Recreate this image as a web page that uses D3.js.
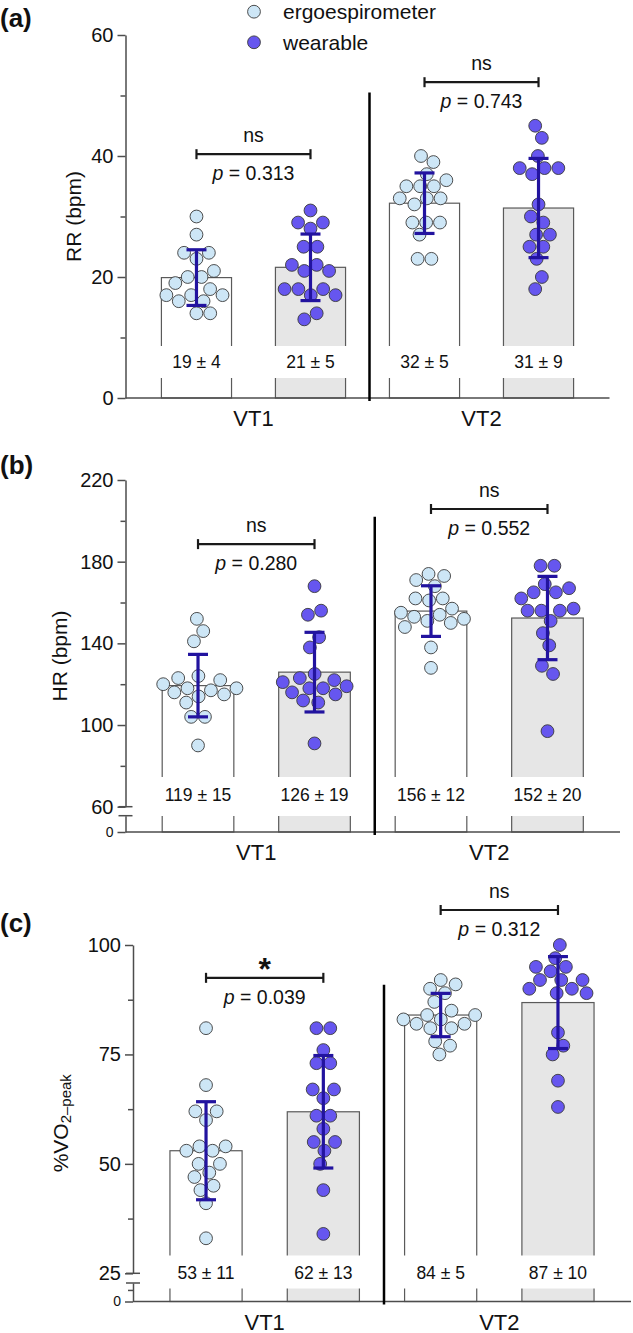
<!DOCTYPE html>
<html>
<head>
<meta charset="utf-8">
<script src="https://cdn.jsdelivr.net/npm/d3@7"></script>
<style>
  body { margin: 0; background: #fff; }
  svg { display: block; }
  text { font-family: "Liberation Sans", Arial, Helvetica, sans-serif; fill: #111; }
</style>
</head>
<body>
<svg id="chart" width="633" height="1333"></svg>
<script>
// categories
const thresholds = ["VT1", "VT2"];
const devices = ["ergoespirometer", "wearable"];
const barKeys = ["VT1-ergo", "VT1-wear", "VT2-ergo", "VT2-wear"];

// (a) respiratory rate, one list per bar (VT1 ergo, VT1 wearable, VT2 ergo, VT2 wearable)
const rrPoints = [
  [30, 27, 24, 24, 23, 21, 20, 20, 19, 18, 17, 17, 17, 16, 16, 14, 14],
  [31, 29, 29, 28, 25, 25, 22, 22, 21, 21, 18, 18, 18, 17, 17, 14, 13],
  [40, 39, 37, 36, 35, 35, 35, 33, 33, 33, 32, 29, 29, 29, 27, 23, 23],
  [45, 43, 40, 38, 38, 38, 37, 32, 30, 29, 27, 27, 25, 25, 23, 20, 18]
];
const rrMean = [19.9, 21.6, 32.2, 31.4];
const rrSD = [4.6, 5.5, 5.0, 8.2];
const rrText = ["19 ± 4", "21 ± 5", "32 ± 5", "31 ± 9"];
const rrTicks = [0, 20, 40, 60];
const rrMinor = [10, 30, 50];
const rrTests = [
  { group: "VT1", mark: "ns", p: "0.313", at: 40.3 },
  { group: "VT2", mark: "ns", p: "0.743", at: 52.2 }
];

// (b) heart rate
const hrPoints = [
  [152, 146, 141, 124, 123, 122, 120, 118, 118, 117, 116, 115, 114, 111, 104, 104, 90],
  [168, 156, 154, 143, 138, 125, 123, 122, 121, 119, 118, 118, 116, 115, 112, 111, 91],
  [174, 173, 171, 168, 162, 162, 161, 157, 155, 154, 153, 152, 151, 150, 148, 138, 128],
  [178, 178, 169, 167, 165, 165, 162, 157, 156, 156, 156, 151, 145, 139, 129, 125, 97]
];
const hrMean = [119.3, 125.9, 155.8, 152.4];
const hrSD = [15.3, 19.5, 12.4, 20.4];
const hrText = ["119 ± 15", "126 ± 19", "156 ± 12", "152 ± 20"];
const hrTicks = [60, 100, 140, 180, 220];
const hrMinor = [80, 120, 160, 200];
const hrTests = [
  { group: "VT1", mark: "ns", p: "0.280", at: 188.6 },
  { group: "VT2", mark: "ns", p: "0.552", at: 205.8 }
];

// (c) %VO2-peak
const vo2Points = [
  [81, 68, 62, 62, 60, 54, 54, 53, 53, 50, 50, 48, 47, 45, 44, 41, 33],
  [81, 81, 76, 73, 73, 67, 67, 65, 61, 61, 58, 55, 55, 53, 50, 44, 34],
  [92, 91, 90, 89, 87, 85, 84, 84, 83, 83, 82, 82, 81, 81, 78, 77, 75],
  [100, 97, 95, 95, 94, 92, 92, 92, 90, 90, 89, 89, 80, 77, 75, 69, 63]
];
const vo2Mean = [53.0, 61.9, 84.0, 86.85];
const vo2SD = [11.2, 12.85, 4.95, 10.5];
const vo2Text = ["53 ± 11", "62 ± 13", "84 ± 5", "87 ± 10"];
const vo2Ticks = [25, 50, 75, 100];
const vo2Minor = [37.5, 62.5, 87.5];
const vo2Tests = [
  { group: "VT1", mark: "*", p: "0.039", at: 92.5 },
  { group: "VT2", mark: "ns", p: "0.312", at: 108 }
];

const ergoColor = "#cde6f6";
const wearColor = "#6656ef";
const errColor = "#22139f";
const axisColor = "#4d4d4d";
const dotR = 6.4;

const svg = d3.select("#chart");

// layout of each panel (pixels)
const panels = [
  { tag: "(a)", tagY: 18, points: rrPoints, mean: rrMean, sd: rrSD, text: rrText,
    ticks: rrTicks, minor: rrMinor, tests: rrTests, yLabel: "RR (bpm)",
    axisX: 125.5, xEnd: 609.5, top: 35, y0: 398, domain: [0, 60],
    yLabelX: 73.5, gap: [-52, -20], textDy: -36, sepTop: 50.5 },
  { tag: "(b)", tagY: 465, points: hrPoints, mean: hrMean, sd: hrSD, text: hrText,
    ticks: hrTicks, minor: hrMinor, tests: hrTests, yLabel: "HR (bpm)",
    axisX: 125.5, xEnd: 620, top: 480, y0: 832, domain: [60, 220],
    breakY: 806.7, lowTop: 815.7, lowDomain: [0, 50], lowMinor: [],
    yLabelX: 59.5, gap: [-55, -16], textDy: -37, sepTop: 202 },
  { tag: "(c)", tagY: 923, points: vo2Points, mean: vo2Mean, sd: vo2SD, text: vo2Text,
    ticks: vo2Ticks, minor: vo2Minor, tests: vo2Tests, yLabel: null,
    axisX: 133, xEnd: 631, top: 945, y0: 1301.5, domain: [25, 100],
    breakY: 1273.3, lowTop: 1283, lowDomain: [0, 20], lowMinor: [12.5],
    yLabelX: 60, gap: [-46, -13], textDy: -29, sepTop: 90.9 }
];

function styleAxis(sel, fontSize) {
  sel.select(".domain").attr("stroke", axisColor).attr("stroke-width", 1.5);
  sel.selectAll(".tick line").attr("stroke", axisColor).attr("stroke-width", 1.5);
  sel.selectAll(".tick text")
    .attr("fill", "#111")
    .style("font-size", fontSize + "px")
    .style("font-family", "'Liberation Sans', Arial, sans-serif");
}

function drawPanel(p) {
  const g = svg.append("g");
  const x = d3.scaleBand().domain(barKeys).range([p.axisX, p.xEnd])
    .paddingInner(0.385).paddingOuter(0.315);
  const bw = x.bandwidth();
  const y = d3.scaleLinear().domain(p.domain).range([p.breakY || p.y0, p.top]);

  // y axis (upper segment)
  const ax = g.append("g").attr("transform", `translate(${p.axisX},0)`)
    .call(d3.axisLeft(y).tickValues(p.ticks).tickSize(8).tickSizeOuter(0).tickPadding(4));
  styleAxis(ax, 20);
  const axm = g.append("g").attr("transform", `translate(${p.axisX},0)`)
    .call(d3.axisLeft(y).tickValues(p.minor).tickSize(5).tickFormat(""));
  axm.select(".domain").remove();
  styleAxis(axm, 10);

  if (p.breakY) {
    const yLow = d3.scaleLinear().domain(p.lowDomain).range([p.y0, p.lowTop]);
    const al = g.append("g").attr("transform", `translate(${p.axisX},0)`)
      .call(d3.axisLeft(yLow).tickValues([0]).tickSize(8).tickSizeOuter(0).tickPadding(4));
    styleAxis(al, 14);
    const alm = g.append("g").attr("transform", `translate(${p.axisX},0)`)
      .call(d3.axisLeft(yLow).tickValues(p.lowMinor).tickSize(5).tickFormat(""));
    alm.select(".domain").remove();
    styleAxis(alm, 10);
    // break marks
    g.selectAll("line.brk").data([p.breakY, p.lowTop]).join("line")
      .attr("x1", p.axisX - 7).attr("x2", p.axisX + 7)
      .attr("y1", d => d).attr("y2", d => d)
      .attr("stroke", axisColor).attr("stroke-width", 1.5);
  }

  // bars
  g.selectAll("rect.bar").data(barKeys).join("rect")
    .attr("x", d => x(d)).attr("width", bw)
    .attr("y", (d, i) => y(p.mean[i]))
    .attr("height", (d, i) => p.y0 - y(p.mean[i]))
    .attr("fill", (d, i) => i % 2 ? "#e6e6e6" : "#fff")
    .attr("stroke", "#5a5a5a").attr("stroke-width", 1.2);

  // white band behind mean ± SD text
  g.selectAll("rect.gap").data(barKeys).join("rect")
    .attr("x", d => x(d) - 2).attr("width", bw + 4)
    .attr("y", p.y0 + p.gap[0]).attr("height", p.gap[1] - p.gap[0])
    .attr("fill", "#fff");
  g.selectAll("text.msd").data(p.text).join("text")
    .attr("x", (d, i) => x(barKeys[i]) + bw / 2)
    .attr("y", p.y0 + p.textDy)
    .attr("text-anchor", "middle").attr("dominant-baseline", "central")
    .style("font-size", "17.5px").text(d => d);

  // x axis line
  g.append("line").attr("x1", p.axisX).attr("x2", p.xEnd)
    .attr("y1", p.y0).attr("y2", p.y0)
    .attr("stroke", axisColor).attr("stroke-width", 1.5);

  // separator
  const xSep = (x(barKeys[1]) + bw + x(barKeys[2])) / 2 + 2;
  g.append("line").attr("x1", xSep).attr("x2", xSep)
    .attr("y1", y(p.sepTop)).attr("y2", p.y0 + 3)
    .attr("stroke", "#000").attr("stroke-width", 2.5);

  // dots, spread sideways with a force layout (y fixed to value)
  p.points.forEach((vals, i) => {
    const cx = x(barKeys[i]) + bw / 2;
    const nodes = vals.map((v, j) => ({ v, fy: y(v), x: cx + (j % 2 ? 2 : -2), y: y(v) }));
    const sim = d3.forceSimulation(nodes)
      .force("x", d3.forceX(cx).strength(0.16))
      .force("collide", d3.forceCollide(6.9).iterations(4))
      .stop();
    for (let t = 0; t < 300; t++) sim.tick();
    g.append("g").selectAll("circle").data(nodes).join("circle")
      .attr("cx", d => d.x).attr("cy", d => y(d.v)).attr("r", dotR)
      .attr("fill", i % 2 ? wearColor : ergoColor)
      .attr("stroke", "#3a3a3a").attr("stroke-width", 0.9);
  });

  // error bars (mean ± SD)
  barKeys.forEach((k, i) => {
    const cx = x(k) + bw / 2;
    const hi = y(p.mean[i] + p.sd[i]);
    const lo = y(p.mean[i] - p.sd[i]);
    const eg = g.append("g").attr("stroke", errColor).attr("stroke-width", 3.2);
    eg.append("line").attr("x1", cx).attr("x2", cx).attr("y1", hi).attr("y2", lo);
    eg.selectAll("line.cap").data([hi, lo]).join("line")
      .attr("x1", cx - 10).attr("x2", cx + 10).attr("y1", d => d).attr("y2", d => d);
  });

  // group labels
  thresholds.forEach((t, gi) => {
    const cx = (x(barKeys[gi * 2]) + x(barKeys[gi * 2 + 1]) + bw) / 2;
    g.append("text").attr("x", cx).attr("y", p.y0 + 28)
      .attr("text-anchor", "middle").style("font-size", "22px").text(t);
  });

  // significance brackets
  p.tests.forEach(t => {
    const gi = thresholds.indexOf(t.group);
    const x1 = x(barKeys[gi * 2]) + bw / 2;
    const x2 = x(barKeys[gi * 2 + 1]) + bw / 2;
    const yb = y(t.at);
    const bg = g.append("g").attr("stroke", "#1a1a1a").attr("stroke-width", 2.2);
    bg.append("line").attr("x1", x1).attr("x2", x2).attr("y1", yb).attr("y2", yb);
    bg.selectAll("line.end").data([x1, x2]).join("line")
      .attr("x1", d => d).attr("x2", d => d).attr("y1", yb - 5).attr("y2", yb + 5);
    const mx = (x1 + x2) / 2;
    if (t.mark === "*") {
      g.append("text").attr("x", mx).attr("y", yb + 2)
        .attr("text-anchor", "middle").style("font-size", "32px").style("font-weight", "bold")
        .text("*");
    } else {
      g.append("text").attr("x", mx).attr("y", yb - 19)
        .attr("text-anchor", "middle").attr("dominant-baseline", "central")
        .style("font-size", "19.5px").text(t.mark);
    }
    const pt = g.append("text").attr("x", mx).attr("y", yb + 19)
      .attr("text-anchor", "middle").attr("dominant-baseline", "central")
      .style("font-size", "19.5px");
    pt.append("tspan").style("font-style", "italic").text("p");
    pt.append("tspan").text(" = " + t.p);
  });

  // y axis title
  const ym = (p.top + p.y0) / 2;
  const yl = g.append("text")
    .attr("transform", `translate(${p.yLabelX},${ym}) rotate(-90)`)
    .attr("text-anchor", "middle").attr("dominant-baseline", "central")
    .style("font-size", "21px");
  if (p.yLabel) {
    yl.text(p.yLabel);
  } else {
    yl.append("tspan").text("%VO");
    yl.append("tspan").attr("dy", 5).style("font-size", "15px").text("2–peak");
  }

  // panel tag
  g.append("text").attr("x", 0).attr("y", p.tagY)
    .attr("dominant-baseline", "central")
    .style("font-size", "26px").style("font-weight", "bold").text(p.tag);
}

panels.forEach(drawPanel);

// legend
const legend = svg.append("g");
devices.forEach((d, i) => {
  const ly = [11.7, 42.3][i];
  legend.append("circle").attr("cx", 254).attr("cy", ly).attr("r", dotR)
    .attr("fill", i ? wearColor : ergoColor)
    .attr("stroke", "#3a3a3a").attr("stroke-width", 0.9);
  legend.append("text").attr("x", 283).attr("y", ly)
    .attr("dominant-baseline", "central").style("font-size", "21px").text(d);
});
</script>
</body>
</html>
